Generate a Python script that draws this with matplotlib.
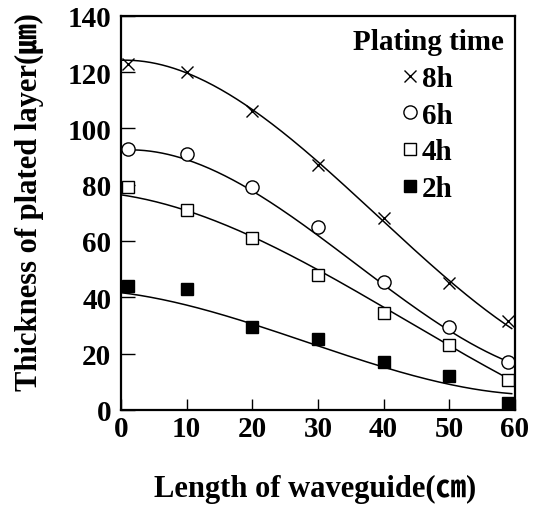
import matplotlib
matplotlib.use("Agg")
import matplotlib.pyplot as plt
import numpy as np

plt.rcParams['font.family'] = ['Liberation Serif', 'Noto Sans CJK JP']
plt.rcParams['font.weight'] = 'bold'

# measured points (x in cm, thickness in um)
x_pts = [1, 10, 20, 30, 40, 50, 59]
h8 = [123, 120, 106, 87, 68, 45, 31.5]
h6 = [92.5, 91, 79, 65, 45.5, 29.5, 17]
h4 = [79, 71, 61, 48, 34.5, 23, 10.5]
h2 = [44, 43, 29.5, 25, 17, 12, 2.5]

# fitted curves
x_fit = [0, 10, 20, 30, 40, 50, 60]
c8 = [124, 120, 107, 87, 67.5, 46, 28]
c6 = [92, 89.5, 77.5, 61.5, 44.5, 28.5, 16]
c4 = [76.5, 70.5, 61.5, 50, 36.5, 22.5, 10]
c2 = [41.5, 37.5, 30.5, 22.5, 15, 9.5, 5.5]

fig = plt.figure(figsize=(5.45, 5.06), dpi=100)
ax = fig.add_axes([0.222, 0.188, 0.723, 0.779])

xx = np.linspace(0, 59.5, 200)
for c in [c8, c6, c4, c2]:
    p = np.poly1d(np.polyfit(x_fit, c, 3))
    ax.plot(xx, p(xx), color="black", linewidth=1.1)

ax.plot(x_pts, h8, linestyle="none", marker="x", markersize=9, markeredgewidth=1,
        color="black", label="8h")
ax.plot(x_pts, h6, linestyle="none", marker="o", markersize=9.5, markeredgewidth=1,
        markerfacecolor="white", color="black", label="6h")
ax.plot(x_pts, h4, linestyle="none", marker="s", markersize=8.5, markeredgewidth=1,
        markerfacecolor="white", color="black", label="4h")
ax.plot(x_pts, h2, linestyle="none", marker="s", markersize=9,
        color="black", label="2h")

ax.set_xlim(0, 60)
ax.set_ylim(0, 140)
ax.set_xticks(range(0, 61, 10))
ax.set_yticks(range(0, 141, 20))
ax.tick_params(direction="in", width=1, labelsize=21)
ax.tick_params(axis="x", length=8, pad=4)
ax.tick_params(axis="y", length=10, pad=7)
for s in ax.spines.values():
    s.set_linewidth(1.6)

ax.set_xlabel("Length of waveguide(\u339d)", fontsize=22, fontweight="bold")
ax.set_ylabel("Thickness of plated layer(\u339b)", fontsize=22, fontweight="bold")
ax.xaxis.set_label_coords(0.492, -0.163)
ax.yaxis.set_label_coords(-0.195, 0.53)

leg = ax.legend(title="Plating time", loc="upper center", bbox_to_anchor=(0.779, 0.968),
                frameon=False, fontsize=21, title_fontsize=21, handlelength=0.5,
                handletextpad=0.15, labelspacing=0.33, borderaxespad=0, borderpad=0)
leg.get_title().set_fontweight("bold")
leg._legend_box.align = "center"

fig.savefig("out.png", dpi=100)
